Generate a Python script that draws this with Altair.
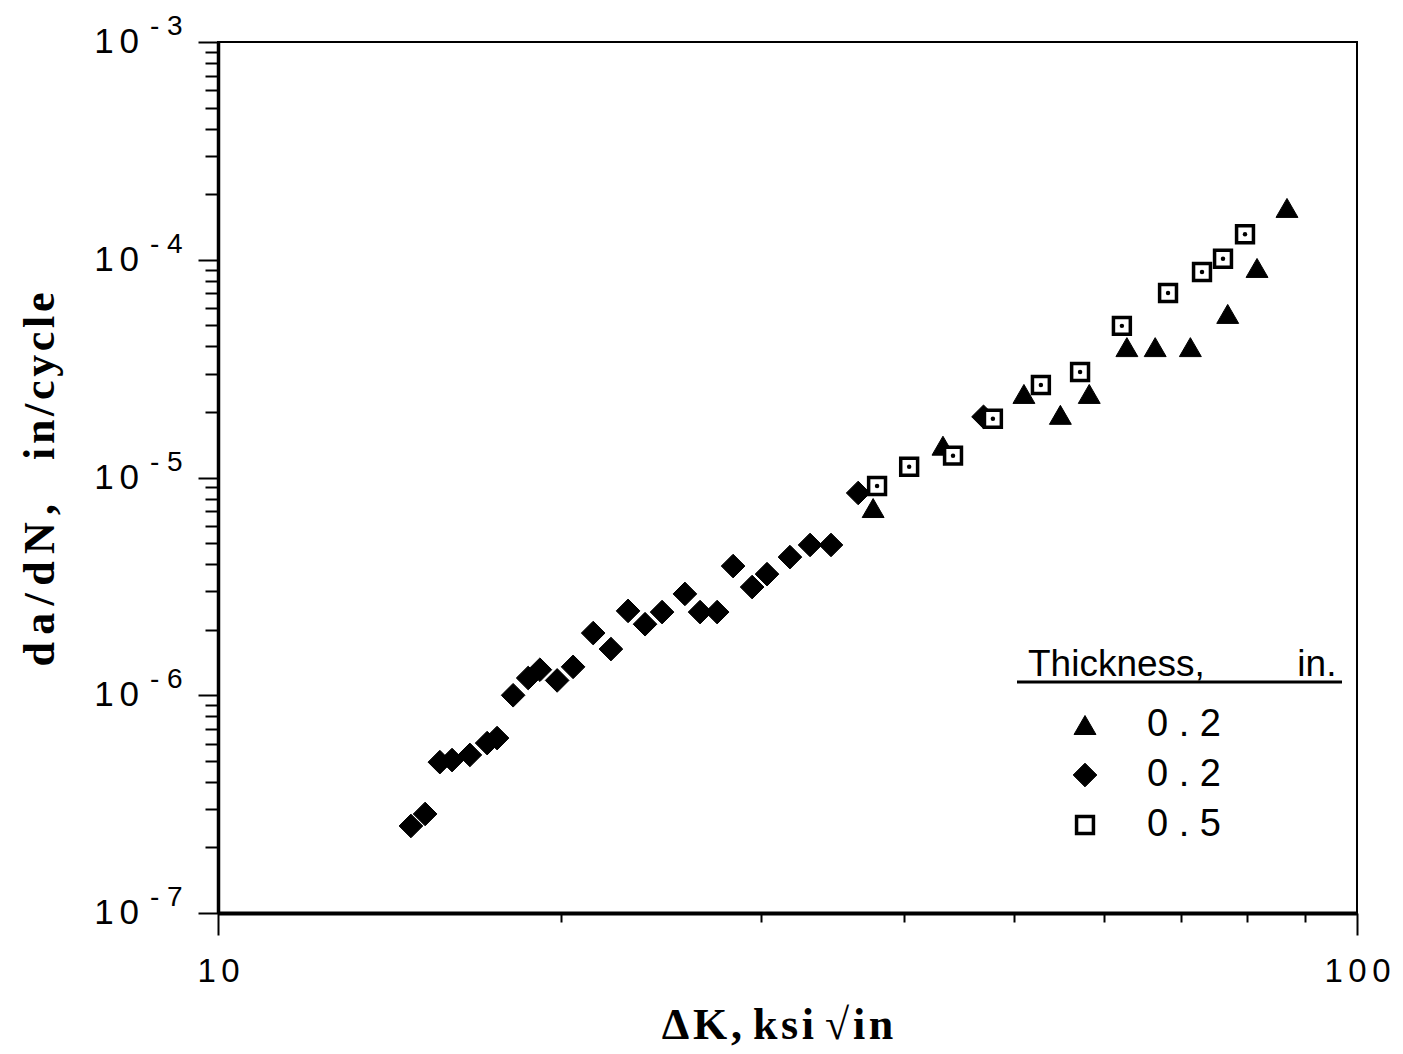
import altair as alt
import pandas as pd

# ---- data (Delta K in ksi*sqrt(in), da/dN in in/cycle) ----
tri_dk = [37.6, 43.3, 51.0, 54.9, 58.2, 62.8, 66.5, 71.4, 77.0, 81.7, 86.8]
tri_dadn = [7.24e-6, 1.40e-5, 2.42e-5, 1.94e-5, 2.42e-5, 3.97e-5, 3.97e-5,
            3.97e-5, 5.64e-5, 9.17e-5, 1.73e-4]

dia_dk = [14.77, 15.20, 15.66, 16.05, 16.64, 17.23, 17.58, 18.16, 18.72, 19.17,
          19.85, 20.50, 21.35, 22.13, 22.91, 23.71, 24.54, 25.70, 26.50, 27.43,
          28.33, 29.44, 30.34, 31.78, 33.10, 34.53, 36.48, 47.0]
dia_dadn = [2.51e-7, 2.85e-7, 4.93e-7, 5.04e-7, 5.32e-7, 6.03e-7, 6.36e-7, 1.00e-6,
            1.20e-6, 1.31e-6, 1.17e-6, 1.35e-6, 1.93e-6, 1.63e-6, 2.44e-6, 2.12e-6,
            2.41e-6, 2.92e-6, 2.41e-6, 2.41e-6, 3.92e-6, 3.14e-6, 3.60e-6, 4.31e-6,
            4.90e-6, 4.90e-6, 8.49e-6, 1.90e-5]

sq_dk = [37.9, 40.44, 44.19, 47.9, 52.78, 57.13, 62.17, 68.25, 73.1, 76.27, 79.74]
sq_dadn = [9.14e-6, 1.12e-5, 1.26e-5, 1.86e-5, 2.66e-5, 3.05e-5, 4.97e-5, 7.04e-5,
           8.79e-5, 1.01e-4, 1.31e-4]

series_keys = ["0.2 (tri)", "0.2 (dia)", "0.5 (sq)"]
series_shapes = ["triangle-up", "diamond", "square"]
series_fill = ["black", "black", "white"]
series_stroke = ["black", "black", "black"]
series_stroke_w = [1, 1, 3.5]
series_size = [480, 560, 285]

y_decades = [1e-3, 1e-4, 1e-5, 1e-6, 1e-7]
y_exponents = ["- 3", "- 4", "- 5", "- 6", "- 7"]
x_tick_values = [10, 20, 30, 40, 50, 60, 70, 80, 90, 100]
y_tick_values = [m * 10.0 ** e for e in range(-7, -3) for m in range(1, 10)] + [1e-3]

SS = "\u2006"  # six-per-em space (letter spacing)
HS = "\u200a"  # hair space (letter spacing)
NB = "\u00a0"

rows = []
for key, xs, ys in [(series_keys[0], tri_dk, tri_dadn),
                    (series_keys[1], dia_dk, dia_dadn),
                    (series_keys[2], sq_dk, sq_dadn)]:
    for a, b in zip(xs, ys):
        rows.append({"dk": a, "dadn": b, "series": key})
df = pd.DataFrame(rows)
sq_df = pd.DataFrame({"dk": sq_dk, "dadn": sq_dadn})
ylab_df = pd.DataFrame({"dadn": y_decades, "exp": y_exponents})

decade_test = "abs(log(datum.value)/LN10 - round(log(datum.value)/LN10)) < 0.001"

xscale = alt.Scale(type="log", domain=[10, 100], nice=False)
yscale = alt.Scale(type="log", domain=[1e-7, 1e-3], nice=False)

x_title = HS.join("ΔK,") + " " + HS.join("ksi") + " " + HS.join("√in")
x_axis = alt.Axis(
    values=x_tick_values,
    labelExpr="datum.value == 10 ? '1" + SS + "0' : (datum.value == 100 ? '1" + SS + "0" + SS + "0' : '')",
    tickSize={"condition": {"test": decade_test, "value": 22}, "value": 9},
    tickWidth=2, domainWidth=4, grid=False,
    labelFont="Liberation Sans", labelFontSize=33, labelPadding=20, labelFlush=False,
    title=x_title, titleFont="Liberation Serif", titleFontSize=44,
    titleFontWeight="bold", titlePadding=15, titleX=559, titleAlign="center",
)
y_title = SS.join("da/dN,") + NB * 4 + HS.join("in/cycle")
y_axis = alt.Axis(
    values=y_tick_values, labels=False,
    tickSize={"condition": {"test": decade_test, "value": 20}, "value": 13},
    tickWidth=2, domainWidth=3.5, grid=False,
    title=y_title, titleFont="Liberation Serif", titleFontSize=44,
    titleFontWeight="bold", titleX=-178, titleY=437, titleAngle=270,
    titleAlign="center", titleBaseline="middle", titleLimit=700,
)

legend = alt.Legend(
    orient="none", legendX=810, legendY=605, padding=0,
    title="Thickness," + NB * 9 + "in.", titleLimit=500,
    titleFont="Liberation Sans", titleFontSize=37, titleFontWeight="normal",
    titleColor="black", titlePadding=22,
    labelFont="Liberation Sans", labelFontSize=38, labelColor="black",
    labelExpr="indexof(datum.label, '0.5') == 0 ? '0 . 5' : '0 . 2'",
    symbolOffset=38, labelOffset=43, rowPadding=12,
)


def enc_scale(rng, stype=None):
    if stype:
        return alt.Scale(type=stype, domain=series_keys, range=rng)
    return alt.Scale(domain=series_keys, range=rng)


points = alt.Chart(df).mark_point(filled=True, opacity=1).encode(
    x=alt.X("dk:Q", scale=xscale, axis=x_axis),
    y=alt.Y("dadn:Q", scale=yscale, axis=y_axis),
    shape=alt.Shape("series:O", scale=enc_scale(series_shapes), legend=legend),
    fill=alt.Fill("series:O", scale=enc_scale(series_fill), legend=legend),
    stroke=alt.Stroke("series:O", scale=enc_scale(series_stroke), legend=legend),
    strokeWidth=alt.StrokeWidth("series:O", scale=enc_scale(series_stroke_w, "ordinal"), legend=legend),
    size=alt.Size("series:O", scale=enc_scale(series_size, "ordinal"), legend=legend),
)

dots = alt.Chart(sq_df).mark_point(filled=True, shape="circle", size=20, color="black", opacity=1).encode(
    x=alt.X("dk:Q", scale=xscale),
    y=alt.Y("dadn:Q", scale=yscale),
)

ylab_base = alt.Chart(ylab_df).mark_text(
    font="Liberation Sans", fontSize=35, align="right", baseline="middle", color="black"
).encode(
    x=alt.value(-79),
    y=alt.Y("dadn:Q", scale=yscale),
    text=alt.value("1" + SS + "0"),
)
ylab_exp = alt.Chart(ylab_df).mark_text(
    font="Liberation Sans", fontSize=28, align="left", baseline="middle", color="black", dy=-15
).encode(
    x=alt.value(-68),
    y=alt.Y("dadn:Q", scale=yscale),
    text="exp:N",
)

underline = alt.Chart(alt.Data(values=[{}])).mark_rule(color="black", strokeWidth=3).encode(
    x=alt.value(799), x2=alt.value(1124), y=alt.value(640)
)

chart = alt.layer(points, dots, ylab_base, ylab_exp, underline).properties(
    width=1139, height=871,
    autosize=alt.AutoSizeParams(type="none"),
    padding={"left": 210, "top": 34, "right": 38, "bottom": 138},
    background="white",
).configure_view(stroke="black", strokeWidth=2).configure_axis(
    domainColor="black", tickColor="black", labelColor="black", titleColor="black"
)

chart.save("out.html", embed_options={"renderer": "svg", "actions": False})
